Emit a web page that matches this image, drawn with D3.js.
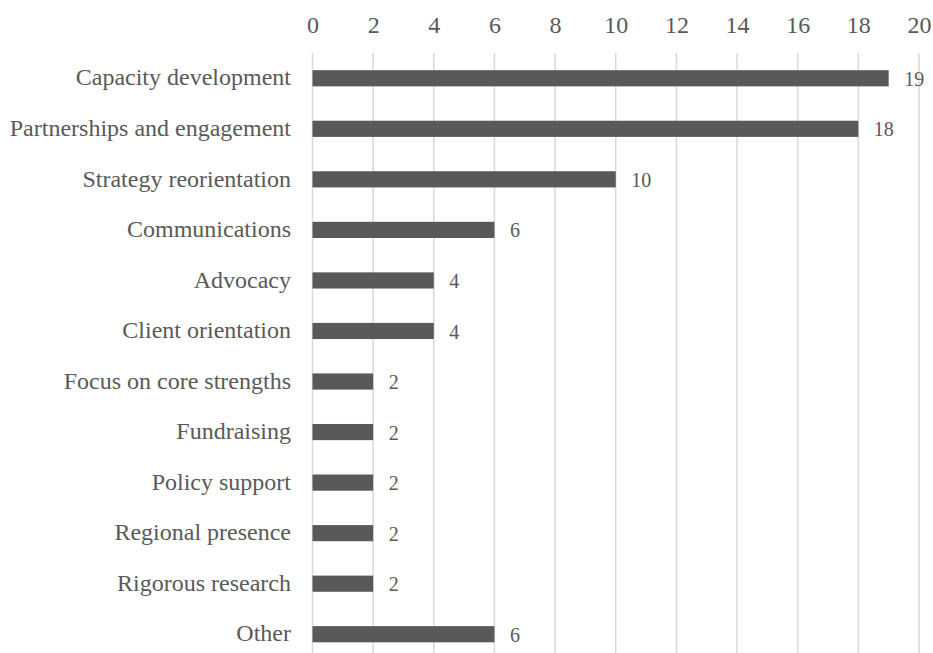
<!DOCTYPE html>
<html>
<head>
<meta charset="utf-8">
<script src="https://cdn.jsdelivr.net/npm/d3@7"></script>
<style>
  html, body { margin: 0; padding: 0; background: #fff; }
  svg { display: block; }
  text { font-family: "Liberation Serif", "Times New Roman", serif; fill: #595959; }
</style>
</head>
<body>
<svg id="chart" width="933" height="653"></svg>
<script>
const categories = ["Capacity development", "Partnerships and engagement", "Strategy reorientation",
  "Communications", "Advocacy", "Client orientation", "Focus on core strengths", "Fundraising",
  "Policy support", "Regional presence", "Rigorous research", "Other"];
const values = [19, 18, 10, 6, 4, 4, 2, 2, 2, 2, 2, 6];
const tickValues = [0, 2, 4, 6, 8, 10, 12, 14, 16, 18, 20];

const svg = d3.select("#chart");
const x = d3.scaleLinear().domain([0, 20]).range([312.5, 919]);
const y = d3.scaleBand().domain(categories).range([53, 659.5]).paddingInner(0.68).paddingOuter(0.34);

// gridlines
svg.append("g").selectAll("line").data(tickValues).join("line")
  .attr("x1", d => x(d)).attr("x2", d => x(d))
  .attr("y1", 53).attr("y2", 653)
  .attr("stroke", "#d9d9d9").attr("stroke-width", 1.5);

// top axis labels
const xAxis = d3.axisTop(x).tickValues(tickValues).tickSize(0).tickPadding(0);
const gx = svg.append("g").attr("transform", "translate(0,33)").call(xAxis);
gx.select(".domain").remove();
gx.selectAll("text").style("font-size", "24px").style("font-family", "Liberation Serif, serif").attr("fill", "#595959");

// bars
svg.append("g").selectAll("rect").data(values).join("rect")
  .attr("x", x(0))
  .attr("y", (d, i) => y(categories[i]))
  .attr("width", d => x(d) - x(0))
  .attr("height", y.bandwidth())
  .attr("fill", "#595959");

// category labels
const yAxis = d3.axisLeft(y).tickSize(0).tickPadding(0);
const gy = svg.append("g").attr("transform", "translate(291,0)").call(yAxis);
gy.select(".domain").remove();
gy.selectAll("text").attr("dy", "0.3em").style("font-size", "24px").style("font-family", "Liberation Serif, serif").attr("fill", "#595959");

// value labels
svg.append("g").selectAll("text").data(values).join("text")
  .attr("x", d => x(d) + 15.5)
  .attr("y", (d, i) => y(categories[i]) + y.bandwidth() / 2)
  .attr("dy", "0.38em")
  .style("font-size", "20px")
  .text(d => d);
</script>
</body>
</html>
